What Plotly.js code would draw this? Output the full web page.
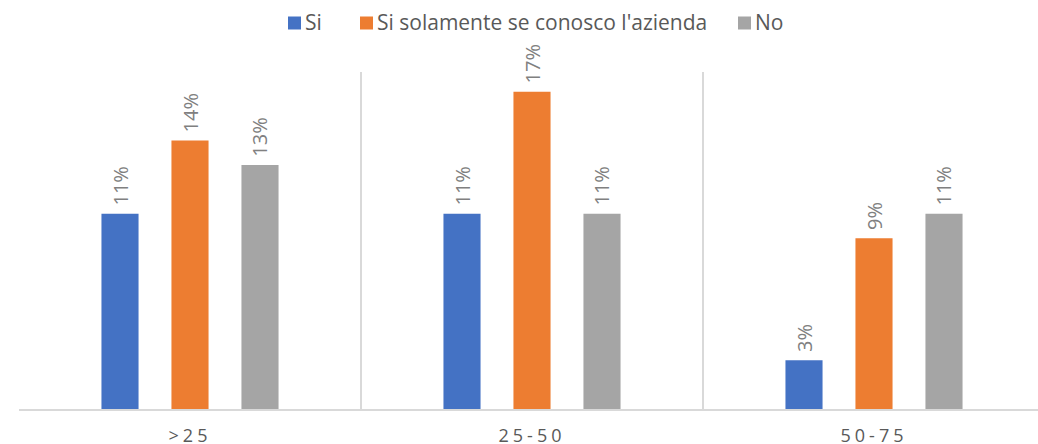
<!DOCTYPE html>
<html>
<head>
<meta charset="utf-8">
<script src="https://cdn.plot.ly/plotly-3.0.1.min.js"></script>
<style>
  html, body { margin: 0; padding: 0; overflow: hidden; background: #fff; }
  .xtick text { letter-spacing: 4px; }
</style>
</head>
<body>
<div id="chart"></div>
<script>
// Age brackets along the x axis
const categories = ['>25', '25-50', '50-75'];

// Share of answers per bracket (fractions of all respondents)
const si = [0.1053, 0.1053, 0.0263];
const siSolamente = [0.1447, 0.1711, 0.0921];
const no = [0.1316, 0.1053, 0.1053];

const seriesNames = ['Si', "Si solamente se conosco l'azienda", 'No'];
const seriesColors = ['#4472c4', '#ed7d31', '#a5a5a5'];
const seriesValues = [si, siSolamente, no];

const FONT = 'Open Sans, Noto Sans, sans-serif';

// plot area spans 19..1045 px horizontally and 72..409 px vertically
const PLOT_L = 19, PLOT_W = 1026, PLOT_T = 72, PLOT_H = 337;
const toPaperX = px => (px - PLOT_L) / PLOT_W;
const toPaperY = py => 1 - (py - PLOT_T) / PLOT_H;

const traces = seriesValues.map((vals, i) => ({
  type: 'bar',
  name: seriesNames[i],
  x: categories,
  y: vals,
  marker: { color: seriesColors[i] },
  texttemplate: '\u00a0%{y:.0%}',
  textposition: 'outside',
  textangle: -90,
  constraintext: 'none',
  cliponaxis: false,
  textfont: { family: FONT, size: 20, color: '#808080' },
  hoverinfo: 'skip',
  showlegend: false
}));

// legend row: coloured key square followed by the series name
const legendX = [288, 360, 738];
const KEY = 13, LEGEND_Y = 23;
const legendKeys = seriesNames.map((name, i) => ({
  type: 'rect',
  xref: 'paper',
  yref: 'paper',
  x0: toPaperX(legendX[i]),
  x1: toPaperX(legendX[i] + KEY),
  y0: toPaperY(LEGEND_Y + KEY / 2),
  y1: toPaperY(LEGEND_Y - KEY / 2),
  fillcolor: seriesColors[i],
  line: { width: 0 }
}));
const legendLabels = seriesNames.map((name, i) => ({
  xref: 'paper',
  yref: 'paper',
  x: toPaperX(legendX[i] + KEY + 3),
  y: toPaperY(LEGEND_Y - 1),
  xanchor: 'left',
  yanchor: 'middle',
  showarrow: false,
  borderpad: 0,
  text: name,
  font: { family: FONT, size: 21, color: '#595959' }
}));

const layout = {
  width: 1046,
  height: 444,
  margin: { l: PLOT_L, r: 1, t: PLOT_T, b: 35 },
  paper_bgcolor: '#ffffff',
  plot_bgcolor: '#ffffff',
  barmode: 'group',
  bargap: 0.386,
  bargroupgap: 0.47,
  showlegend: false,
  shapes: legendKeys,
  annotations: legendLabels,
  xaxis: {
    type: 'category',
    tickson: 'boundaries',
    showgrid: true,
    gridcolor: '#d9d9d9',
    gridwidth: 1.5,
    showline: true,
    linecolor: '#d9d9d9',
    linewidth: 1.5,
    ticks: '',
    ticklabelstandoff: 10,
    tickfont: { family: FONT, size: 18, color: '#595959' },
    fixedrange: true
  },
  yaxis: {
    range: [0, 0.1817],
    showgrid: false,
    zeroline: false,
    showticklabels: false,
    ticks: '',
    fixedrange: true
  }
};

Plotly.newPlot('chart', traces, layout, { displayModeBar: false, staticPlot: true });
</script>
</body>
</html>
